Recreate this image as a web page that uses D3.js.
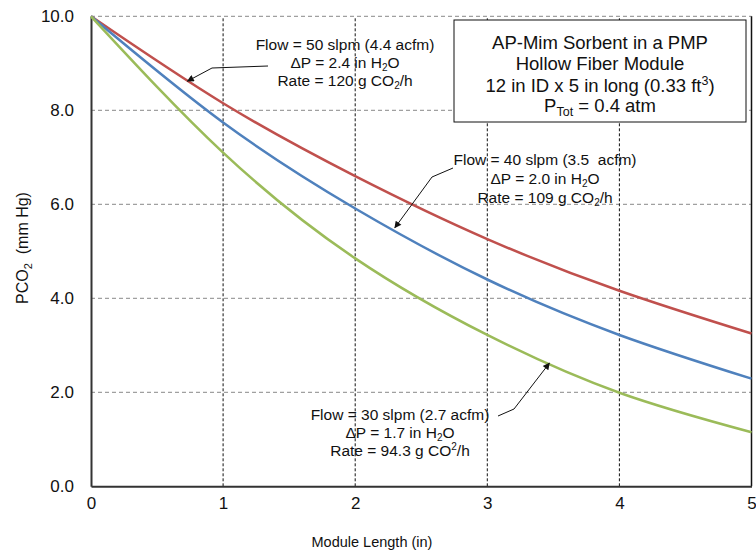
<!DOCTYPE html>
<html><head><meta charset="utf-8">
<script src="https://cdn.jsdelivr.net/npm/d3@7"></script>
<style>body{margin:0;background:#fff}svg{display:block}text{font-family:"Liberation Sans",Arial,Helvetica,sans-serif;fill:#111}</style>
</head><body><div id="chart"></div>
<script>
// ---- data ----
const moduleLength = [0, 1, 2, 3, 4, 5];
const flow50 = [10.0, 8.15, 6.60, 5.26, 4.16, 3.25];
const flow40 = [10.0, 7.74, 5.91, 4.40, 3.22, 2.29];
const flow30 = [10.0, 7.10, 4.85, 3.22, 1.99, 1.15];
const xTicks = [0, 1, 2, 3, 4, 5];
const yTicks = [0, 2, 4, 6, 8, 10];
const seriesColors = ["#c0504d", "#4f81bd", "#9bbb59"];

const W = 756, H = 554;
const m = {left: 91, right: 4.5, top: 16.3, bottom: 67.7};
const svg = d3.select("#chart").append("svg").attr("width", W).attr("height", H);
const x = d3.scaleLinear().domain([0, 5]).range([m.left, W - m.right]);
const y = d3.scaleLinear().domain([0, 10]).range([H - m.bottom, m.top]);
const FONT = '"Liberation Sans",Arial,sans-serif';

// horizontal gridlines (gray dashed)
svg.append("g").selectAll("line").data(yTicks.filter(d => d > 0)).join("line")
  .attr("x1", x(0)).attr("x2", x(5)).attr("y1", d => y(d)).attr("y2", d => y(d))
  .attr("stroke", "#a0a0a0").attr("stroke-width", 1.3).attr("stroke-dasharray", "4,3");
// vertical gridlines (black dashed)
svg.append("g").selectAll("line").data(xTicks.filter(d => d > 0 && d < 5)).join("line")
  .attr("x1", d => x(d)).attr("x2", d => x(d)).attr("y1", y(0)).attr("y2", y(10))
  .attr("stroke", "#111").attr("stroke-width", 1).attr("stroke-dasharray", "3,2");
// right border
svg.append("line").attr("x1", x(5)).attr("x2", x(5)).attr("y1", y(0)).attr("y2", y(10))
  .attr("stroke", "#111").attr("stroke-width", 1.5);

// axes
const yAxis = d3.axisLeft(y).tickValues(yTicks).tickFormat(d3.format(".1f")).tickSize(0).tickPadding(17);
const gy = svg.append("g").attr("transform", `translate(${x(0)},0)`).call(yAxis);
gy.select(".domain").attr("stroke", "#333").attr("stroke-width", 2);
gy.selectAll("text").attr("font-size", 17).style("font-family", FONT).attr("fill", "#111");
const xAxis = d3.axisBottom(x).tickValues(xTicks).tickFormat(d3.format("d")).tickSize(0).tickPadding(11);
const gx = svg.append("g").attr("transform", `translate(0,${y(0)})`).call(xAxis);
gx.select(".domain").attr("stroke", "#333").attr("stroke-width", 2);
gx.selectAll("text").attr("font-size", 17).style("font-family", FONT).attr("fill", "#111");

// axis titles
svg.append("text").attr("x", 372).attr("y", 547).attr("text-anchor", "middle").attr("font-size", 14.5).text("Module Length (in)");
const yt = svg.append("text").attr("transform", "translate(28,248) rotate(-90)").attr("text-anchor", "middle").attr("font-size", 16);
yt.append("tspan").text("PCO");
yt.append("tspan").attr("font-size", 11).attr("dy", 4).text("2");
yt.append("tspan").attr("dy", -4).text("\u00a0 (mm Hg)");

// curves
const line = d3.line().x((d, i) => x(moduleLength[i])).y(d => y(d)).curve(d3.curveNatural);
[flow50, flow40, flow30].forEach((s, i) => {
  svg.append("path").datum(s).attr("d", line).attr("fill", "none")
    .attr("stroke", seriesColors[i]).attr("stroke-width", 2.5);
});

// arrow marker
svg.append("defs").append("marker").attr("id", "arr").attr("viewBox", "0 0 10 10")
  .attr("refX", 9).attr("refY", 5).attr("markerWidth", 9).attr("markerHeight", 7)
  .attr("orient", "auto").attr("markerUnits", "userSpaceOnUse")
  .append("path").attr("d", "M0,0 L10,5 L0,10 z").attr("fill", "#111");

function multiLine(cx, baselines, parts) {
  parts.forEach((p, i) => {
    const t = svg.append("text").attr("x", cx).attr("y", baselines[i]).attr("text-anchor", "middle").attr("font-size", 15.5);
    p.forEach(seg => {
      const ts = t.append("tspan").text(seg.t);
      if (seg.sub) ts.attr("font-size", 10).attr("dy", 3);
      if (seg.sup) ts.attr("font-size", 10).attr("dy", -6);
      if (seg.back) ts.attr("dy", seg.back);
    });
  });
}
function arrow(pts) {
  svg.append("path").attr("d", d3.line()(pts)).attr("fill", "none").attr("stroke", "#111")
    .attr("stroke-width", 1).attr("marker-end", "url(#arr)");
}

// annotation 50 slpm
multiLine(345, [50, 68, 86], [
  [{t: "Flow = 50 slpm (4.4 acfm)"}],
  [{t: "\u0394P = 2.4 in H"}, {t: "2", sub: true}, {t: "O", back: -3}],
  [{t: "Rate = 120 g CO"}, {t: "2", sub: true}, {t: "/h", back: -3}]
]);
arrow([[268, 66], [212, 68], [x(0.73), y(8.62)]]);

// annotation 40 slpm
multiLine(545, [165, 184, 202.5], [
  [{t: "Flow = 40 slpm (3.5\u00a0 acfm)"}],
  [{t: "\u0394P = 2.0 in H"}, {t: "2", sub: true}, {t: "O", back: -3}],
  [{t: "Rate = 109 g CO"}, {t: "2", sub: true}, {t: "/h", back: -3}]
]);
arrow([[453, 168], [432, 177], [x(2.30), y(5.50)]]);

// annotation 30 slpm
multiLine(400, [420, 438, 456], [
  [{t: "Flow = 30 slpm (2.7 acfm)"}],
  [{t: "\u0394P = 1.7 in H"}, {t: "2", sub: true}, {t: "O", back: -3}],
  [{t: "Rate = 94.3 g CO"}, {t: "2", sup: true}, {t: "/h", back: 6}]
]);
arrow([[498, 416], [514, 409], [x(3.47), y(2.62)]]);

// title box
svg.append("rect").attr("x", 454).attr("y", 20).attr("width", 292).attr("height", 102)
  .attr("fill", "#fff").attr("stroke", "#111").attr("stroke-width", 1);
const bt = [49, 70, 92, 112];
["AP-Mim Sorbent in a PMP", "Hollow Fiber Module"].forEach((s, i) => {
  svg.append("text").attr("x", 600).attr("y", bt[i]).attr("text-anchor", "middle").attr("font-size", 18.5).text(s);
});
const t3 = svg.append("text").attr("x", 600).attr("y", bt[2]).attr("text-anchor", "middle").attr("font-size", 18.5);
t3.append("tspan").text("12 in ID x 5 in long (0.33 ft");
t3.append("tspan").attr("font-size", 12.5).attr("dy", -7).text("3");
t3.append("tspan").attr("dy", 7).text(")");
const t4 = svg.append("text").attr("x", 600).attr("y", bt[3]).attr("text-anchor", "middle").attr("font-size", 18.5);
t4.append("tspan").text("P");
t4.append("tspan").attr("font-size", 12.5).attr("dy", 4).text("Tot");
t4.append("tspan").attr("dy", -4).text(" = 0.4 atm");
</script></body></html>
